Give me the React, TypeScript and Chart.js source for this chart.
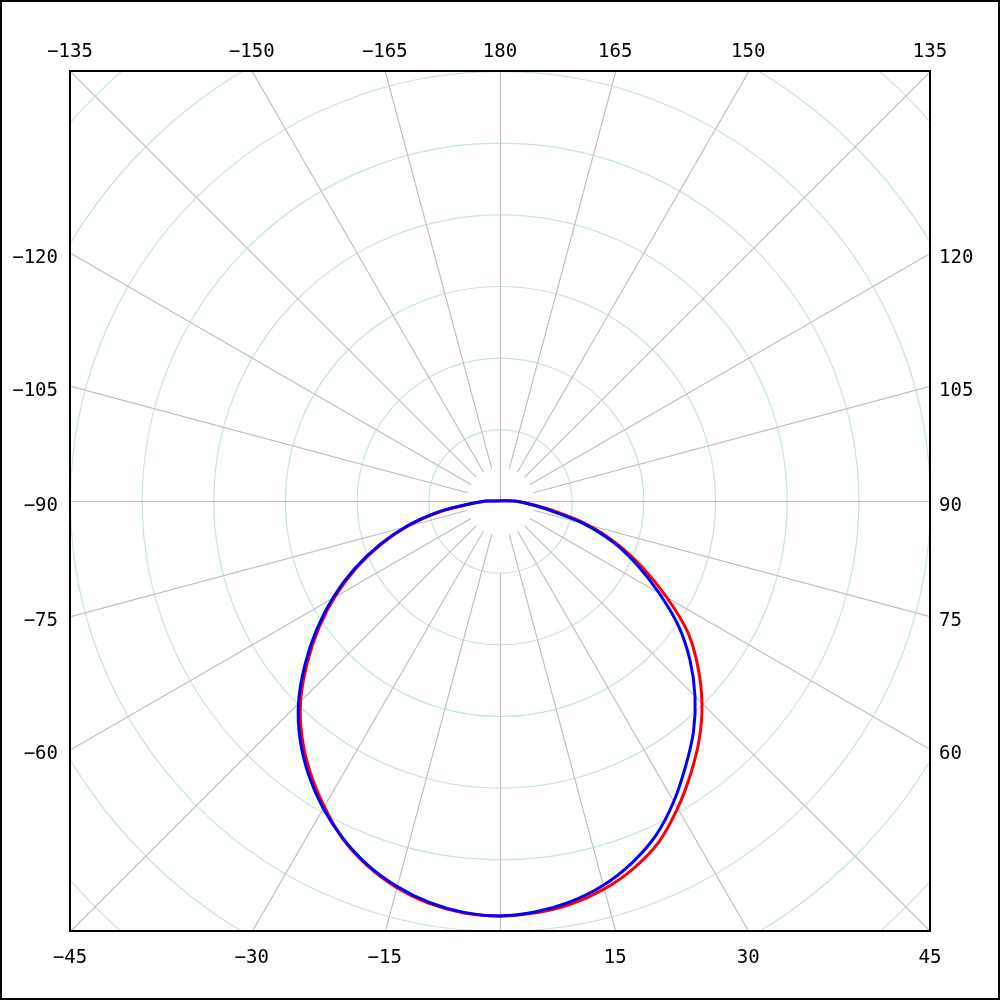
import { useEffect, useRef } from "react";
import { Chart, registerables } from "chart.js";

Chart.register(...registerables);

// Polar angles (degrees from nadir), 5° steps, for each half-plane
const gammaDeg = [0, 5, 10, 15, 20, 25, 30, 35, 40, 45, 50, 55, 60, 65, 70, 75, 80, 85, 90];

// Blue curve (intensity values)
const blueRight = [289.5, 287.7, 283.8, 277.7, 268.8, 257.4, 242.3, 225.8, 210.0, 192.4, 173.1, 152.1, 128.0, 105.6, 84.0, 59.6, 32.7, 18.1, 9.8];
const blueLeft = [289.5, 288.1, 284.4, 278.3, 270.1, 259.5, 247.1, 232.9, 217.0, 198.8, 177.6, 156.1, 134.3, 112.0, 89.5, 66.8, 43.0, 20.1, 9.8];

// Red curve (intensity values)
const redRight = [289.5, 288.4, 285.5, 280.3, 272.7, 262.4, 247.7, 232.1, 216.4, 199.3, 180.3, 160.1, 134.3, 109.7, 86.4, 62.3, 36.3, 19.5, 9.8];
const redLeft = [289.5, 288.5, 285.0, 279.1, 270.7, 259.9, 245.6, 230.9, 214.9, 196.7, 175.5, 154.2, 132.6, 110.6, 88.3, 65.9, 42.2, 19.5, 9.8];

// Grid
const ringValues = [50, 100, 150, 200, 250, 300, 350, 400];
const radialAngles = [-165, -150, -135, -120, -105, -90, -75, -60, -45, -30, -15, 0, 15, 30, 45, 60, 75, 90, 105, 120, 135, 150, 165, 180];
const labelAngles = [-165, -150, -135, -120, -105, -90, -75, -60, -45, -30, -15, 15, 30, 45, 60, 75, 90, 105, 120, 135, 150, 165, 180];
const axisMax = 300;

function toPoints(left: number[], right: number[]) {
  const pts: { x: number; y: number }[] = [];
  for (let i = gammaDeg.length - 1; i >= 1; i--) {
    const a = (-gammaDeg[i] * Math.PI) / 180;
    pts.push({ x: left[i] * Math.sin(a), y: -left[i] * Math.cos(a) });
  }
  for (let i = 0; i < gammaDeg.length; i++) {
    const a = (gammaDeg[i] * Math.PI) / 180;
    pts.push({ x: right[i] * Math.sin(a), y: -right[i] * Math.cos(a) });
  }
  pts.push({ ...pts[0] });
  return pts;
}

const FONT = '19px "DejaVu Sans Mono", monospace';

const polarPlugin = {
  id: "polarGrid",
  beforeDraw(chart: any) {
    const ctx = chart.ctx;
    ctx.save();
    ctx.fillStyle = "#ffffff";
    ctx.fillRect(0, 0, chart.width, chart.height);
    ctx.restore();
  },
  beforeDatasetsDraw(chart: any) {
    const ctx = chart.ctx;
    const area = chart.chartArea;
    const xs = chart.scales.x;
    const ys = chart.scales.y;
    const cx = xs.getPixelForValue(0);
    const cy = ys.getPixelForValue(0);
    const k = xs.getPixelForValue(1) - cx;
    ctx.save();
    ctx.beginPath();
    ctx.rect(area.left, area.top, area.right - area.left, area.bottom - area.top);
    ctx.clip();
    ctx.translate(0.5, 0.5);
    ctx.lineWidth = 1.2;
    ctx.strokeStyle = "#c6e2ec";
    for (const r of ringValues) {
      ctx.beginPath();
      ctx.arc(cx, cy, r * k, 0, Math.PI * 2);
      ctx.stroke();
    }
    ctx.strokeStyle = "#bdbdbd";
    ctx.lineWidth = 1.1;
    const far = 700;
    for (const a of radialAngles) {
      const rad = (a * Math.PI) / 180;
      const dx = Math.sin(rad);
      const dy = Math.cos(rad);
      let r0 = 34;
      if (a === 180 || a === 90 || a === -90) r0 = 0;
      if (a === 0) r0 = 72;
      ctx.beginPath();
      ctx.moveTo(cx + dx * r0, cy + dy * r0);
      ctx.lineTo(cx + dx * far, cy + dy * far);
      ctx.stroke();
    }
    ctx.restore();
  },
  afterDraw(chart: any) {
    const ctx = chart.ctx;
    const area = chart.chartArea;
    const xs = chart.scales.x;
    const ys = chart.scales.y;
    const cx = xs.getPixelForValue(0);
    const cy = ys.getPixelForValue(0);
    const h = (area.right - area.left) / 2;
    ctx.save();
    ctx.strokeStyle = "#000000";
    ctx.lineWidth = 2;
    ctx.strokeRect(area.left, area.top, area.right - area.left, area.bottom - area.top);
    ctx.strokeRect(1, 1, chart.width - 2, chart.height - 2);
    ctx.fillStyle = "#000000";
    ctx.font = FONT;
    ctx.textBaseline = "alphabetic";
    for (const a of labelAngles) {
      const rad = (a * Math.PI) / 180;
      const dx = Math.sin(rad);
      const dy = Math.cos(rad);
      const t = h / Math.max(Math.abs(dx), Math.abs(dy));
      const px = cx + dx * t;
      const py = cy + dy * t;
      const text = a < 0 ? "\u2212" + String(-a) : String(a);
      if (Math.abs(dy) >= Math.abs(dx) - 1e-6) {
        ctx.textAlign = "center";
        if (dy > 0) ctx.fillText(text, px, area.bottom + 32);
        else ctx.fillText(text, px, area.top - 14);
      } else {
        if (dx < 0) {
          ctx.textAlign = "right";
          ctx.fillText(text, area.left - 12, py + 10);
        } else {
          ctx.textAlign = "left";
          ctx.fillText(text, area.right + 9, py + 10);
        }
      }
    }
    ctx.restore();
  },
};

export default function App() {
  const ref = useRef<HTMLCanvasElement | null>(null);
  useEffect(() => {
    if (!ref.current) return;
    const chart = new Chart(ref.current, {
      type: "scatter",
      data: {
        datasets: [
          {
            label: "Blue",
            data: toPoints(blueLeft, blueRight),
            showLine: true,
            borderColor: "#0000ff",
            borderWidth: 3,
            pointRadius: 0,
            tension: 0.3,
            fill: false,
            order: 1,
          },
          {
            label: "Red",
            data: toPoints(redLeft, redRight),
            showLine: true,
            borderColor: "#ff0000",
            borderWidth: 3,
            pointRadius: 0,
            tension: 0.3,
            fill: false,
            order: 2,
          },
        ],
      },
      options: {
        animation: false,
        responsive: true,
        maintainAspectRatio: false,
        layout: { padding: { left: 70, top: 71, right: 70, bottom: 69 } },
        plugins: { legend: { display: false }, tooltip: { enabled: false } },
        scales: {
          x: { type: "linear", min: -axisMax, max: axisMax, display: false },
          y: { type: "linear", min: -axisMax, max: axisMax, display: false },
        },
      },
      plugins: [polarPlugin],
    });
    return () => chart.destroy();
  }, []);
  return (
    <div style={{ position: "fixed", left: 0, top: 0, width: 1000, height: 1000, background: "#fff" }}>
      <canvas ref={ref} />
    </div>
  );
}
